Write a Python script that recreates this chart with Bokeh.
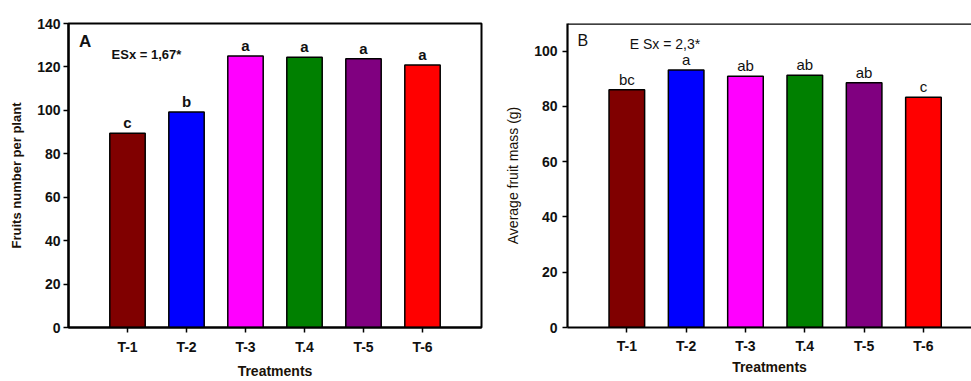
from bokeh.plotting import figure
from bokeh.models import ColumnDataSource, FixedTicker, Range1d, Span, Label
from bokeh.layouts import row
from bokeh.embed import file_html
from bokeh.resources import INLINE
from bokeh.core.properties import value

# ---- data ----
treatments = ["T-1", "T-2", "T-3", "T.4", "T-5", "T-6"]
colors = ["#800000", "#0000FF", "#FF00FF", "#008000", "#800080", "#FF0000"]
fruits_number = [89.5, 99.3, 125.0, 124.4, 123.8, 120.9]
fruits_letters = ["c", "b", "a", "a", "a", "a"]
fruit_mass = [86.0, 93.2, 90.9, 91.3, 88.6, 83.3]
mass_letters = ["bc", "a", "ab", "ab", "ab", "c"]
yticks_a = [0, 20, 40, 60, 80, 100, 120, 140]
yticks_b = [0, 20, 40, 60, 80, 100]

FONT = "Liberation Sans"
TXT = "#111111"
xpos = [i + 1 for i in range(len(treatments))]
overrides = {x: t for x, t in zip(xpos, treatments)}


def style_axes(p, yticks, ylab_size, ylab_style, y_std, x_std, xl_std):
    p.xgrid.visible = False
    p.ygrid.visible = False
    p.background_fill_color = "white"
    p.border_fill_color = "white"
    for ax in (p.xaxis[0], p.yaxis[0]):
        ax.axis_line_width = 2.2
        ax.axis_line_color = "black"
        ax.major_tick_line_width = 1.5
        ax.major_tick_line_color = "black"
        ax.major_tick_out = 5
        ax.major_tick_in = 0
        ax.minor_tick_line_color = None
        ax.major_label_text_font = FONT
        ax.major_label_text_font_size = "14px"
        ax.major_label_text_font_style = "bold"
        ax.major_label_text_color = TXT
        ax.axis_label_text_font = FONT
        ax.axis_label_text_color = "#1a1208"
    p.xaxis.axis_label_text_font_size = "14px"
    p.xaxis.axis_label_text_font_style = "bold"
    p.yaxis.axis_label_text_font_size = ylab_size
    p.yaxis.axis_label_text_font_style = ylab_style
    p.xaxis.ticker = FixedTicker(ticks=xpos)
    p.xaxis.major_label_overrides = overrides
    p.yaxis.ticker = FixedTicker(ticks=yticks)
    p.xaxis.major_label_standoff = x_std
    p.xaxis.axis_label_standoff = xl_std
    p.yaxis.major_label_standoff = y_std
    p.yaxis.axis_label_standoff = 10


# ---- Panel A ----
pa = figure(width=490, height=381, output_backend="svg", toolbar_location=None,
            x_range=Range1d(0, 7), y_range=Range1d(0, 140),
            min_border_left=68, min_border_right=9, min_border_top=22, min_border_bottom=53)
pa.outline_line_color = "black"
pa.outline_line_width = 2
srcA = ColumnDataSource(dict(x=xpos, top=fruits_number, color=colors, lab=fruits_letters))
pa.vbar(x="x", top="top", bottom=0, width=0.6, fill_color="color",
        line_color="black", line_width=1.5, source=srcA)
pa.text(x="x", y="top", text="lab", source=srcA, text_align="center", text_baseline="bottom",
        y_offset=-2, text_font=value(FONT), text_font_size="15px", text_font_style="bold",
        text_color=TXT)
pa.xaxis.axis_label = "Treatments"
pa.yaxis.axis_label = "Fruits number per plant"
style_axes(pa, yticks_a, "13px", "bold", 3, 6, 5)
pa.add_layout(Label(x=0.18, y=136, text="A", text_baseline="top", text_font=FONT,
                    text_font_size="17px", text_font_style="bold", text_color=TXT))
pa.add_layout(Label(x=0.73, y=129, text="ESx = 1,67*", text_baseline="top", text_font=FONT,
                    text_font_size="13px", text_font_style="bold", text_color=TXT))

# ---- Panel B ----
pb = figure(width=481, height=381, output_backend="svg", toolbar_location=None,
            x_range=Range1d(0, 6.81), y_range=Range1d(0, 110),
            min_border_left=77, min_border_right=0, min_border_top=23, min_border_bottom=50)
pb.outline_line_color = None
srcB = ColumnDataSource(dict(x=xpos, top=fruit_mass, color=colors, lab=mass_letters))
pb.vbar(x="x", top="top", bottom=0, width=0.6, fill_color="color",
        line_color="black", line_width=1.5, source=srcB)
pb.text(x="x", y="top", text="lab", source=srcB, text_align="center", text_baseline="bottom",
        y_offset=-2, text_font=value(FONT), text_font_size="15px", text_font_style="normal",
        text_color=TXT)
pb.xaxis.axis_label = "Treatments"
pb.yaxis.axis_label = "Average fruit mass (g)"
style_axes(pb, yticks_b, "14px", "normal", 5, 5, 2)
pb.add_layout(Span(location=110, dimension="width", line_color="black", line_width=2.5))
pb.add_layout(Label(x=0.17, y=107, text="B", text_baseline="top", text_font=FONT,
                    text_font_size="16px", text_font_style="normal", text_color=TXT))
pb.add_layout(Label(x=1.05, y=105.5, text="E Sx = 2,3*", text_baseline="top", text_font=FONT,
                    text_font_size="14px", text_font_style="normal", text_color=TXT))

layout = row(pa, pb)
open("out.html", "w").write(file_html(layout, INLINE))
